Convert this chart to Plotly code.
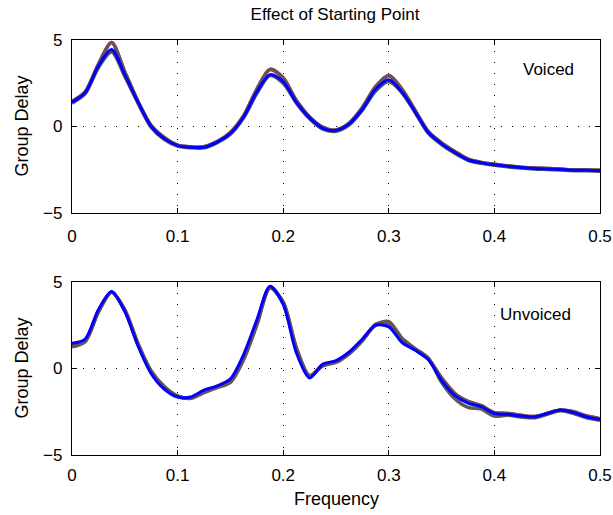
import plotly.graph_objects as go
from plotly.subplots import make_subplots

freq = [i * 0.0125 for i in range(41)]

voiced_blue = [1.4, 1.95, 3.5, 4.45, 3.0, 1.4, 0.0, -0.7, -1.1, -1.2, -1.2, -0.9, -0.4, 0.55, 2.0, 3.0,
               2.6, 1.4, 0.5, -0.1, -0.23, 0.15, 1.0, 2.15, 2.7, 2.0, 0.85, -0.35, -1.0, -1.5, -1.92,
               -2.1, -2.21, -2.3, -2.37, -2.42, -2.45, -2.48, -2.52, -2.53, -2.55]
voiced_upper = [1.45, 2.0, 3.6, 4.85, 3.15, 1.45, 0.05, -0.65, -1.08, -1.18, -1.17, -0.87, -0.35, 0.62, 2.15, 3.3,
                2.8, 1.5, 0.55, -0.05, -0.2, 0.2, 1.1, 2.3, 2.95, 2.15, 0.92, -0.3, -0.95, -1.45, -1.88,
                -2.07, -2.18, -2.28, -2.35, -2.4, -2.43, -2.46, -2.5, -2.51, -2.53]
voiced_lower = [1.35, 1.9, 3.4, 4.3, 2.9, 1.35, -0.05, -0.75, -1.13, -1.23, -1.23, -0.93, -0.45, 0.5, 1.9, 2.95,
                2.5, 1.35, 0.45, -0.15, -0.27, 0.1, 0.95, 2.05, 2.6, 1.95, 0.8, -0.4, -1.05, -1.55, -1.95,
                -2.13, -2.24, -2.33, -2.4, -2.45, -2.48, -2.51, -2.55, -2.56, -2.58]

unvoiced_blue = [1.45, 1.7, 3.4, 4.45, 3.3, 1.3, -0.3, -1.2, -1.65, -1.65, -1.25, -1.0, -0.6, 0.8, 2.8, 4.75,
                 3.7, 0.9, -0.55, 0.25, 0.45, 0.95, 1.7, 2.5, 2.4, 1.5, 1.05, 0.5, -0.7, -1.55, -2.0,
                 -2.2, -2.6, -2.65, -2.75, -2.8, -2.6, -2.4, -2.55, -2.8, -2.95]
unvoiced_band1 = [1.3, 1.6, 3.3, 4.4, 3.35, 1.4, -0.2, -1.1, -1.6, -1.7, -1.35, -1.05, -0.75, 0.6, 2.6, 4.7,
                  3.8, 1.1, -0.45, 0.2, 0.4, 0.9, 1.65, 2.5, 2.6, 1.65, 1.1, 0.55, -0.55, -1.45, -1.9,
                  -2.15, -2.55, -2.6, -2.7, -2.78, -2.6, -2.4, -2.5, -2.75, -2.9]
unvoiced_band2 = [1.25, 1.55, 3.25, 4.4, 3.4, 1.45, -0.15, -1.05, -1.6, -1.72, -1.4, -1.1, -0.8, 0.5, 2.5, 4.65,
                  3.85, 1.2, -0.4, 0.15, 0.35, 0.85, 1.6, 2.55, 2.7, 1.75, 1.15, 0.6, -0.8, -1.75, -2.25,
                  -2.35, -2.75, -2.7, -2.8, -2.85, -2.65, -2.45, -2.6, -2.85, -3.0]

x_ticks = [0, 0.1, 0.2, 0.3, 0.4, 0.5]
y_ticks = [-5, 0, 5]

FONT = "Liberation Sans, Arial, Helvetica, sans-serif"

fig = make_subplots(rows=2, cols=1, vertical_spacing=0.166)

band_colors = ["rgb(150,70,50)", "rgb(90,90,90)", "rgb(110,80,90)"]
for row, series in ((1, [voiced_upper, voiced_lower, voiced_upper]), (2, [unvoiced_band1, unvoiced_band2, unvoiced_band1])):
    for s, c in zip(series, band_colors):
        fig.add_trace(go.Scatter(x=freq, y=s, mode="lines", line=dict(color=c, width=3.5, shape="spline", smoothing=0.8),
                                 showlegend=False, hoverinfo="skip"), row=row, col=1)
    blue = voiced_blue if row == 1 else unvoiced_blue
    fig.add_trace(go.Scatter(x=freq, y=blue, mode="lines", line=dict(color="rgb(0,0,255)", width=3, shape="spline", smoothing=0.8),
                             showlegend=False), row=row, col=1)

axis_font = dict(family=FONT, size=17, color="black")
for r, standoff in ((1, 7), (2, 4)):
    fig.update_xaxes(range=[0, 0.5], tickvals=x_ticks, ticktext=[f"{v:g}" for v in x_ticks],
                     showline=True, linecolor="black", linewidth=1.3, mirror="allticks",
                     ticks="inside", ticklen=5, tickcolor="black", ticklabelstandoff=standoff,
                     showgrid=True, gridcolor="black", griddash="1px,10px", gridwidth=1,
                     zeroline=False, tickfont=axis_font, automargin=False, row=r, col=1)
    fig.update_yaxes(range=[-5, 5], tickvals=y_ticks,
                     showline=True, linecolor="black", linewidth=1.3, mirror="allticks",
                     ticks="inside", ticklen=5, tickcolor="black", ticklabelstandoff=5,
                     showgrid=True, gridcolor="black", griddash="1px,10px", gridwidth=1,
                     zeroline=False, tickfont=axis_font, automargin=False, row=r, col=1)

title_font = dict(family=FONT, size=18, color="black")
for yd in ("y domain", "y2 domain"):
    fig.add_annotation(x=0, xref="paper", y=0.5, yref=yd, text="Group Delay", textangle=-90,
                       showarrow=False, xanchor="center", yanchor="middle", xshift=-50, font=title_font)
fig.add_annotation(x=0.5, xref="x2 domain", y=0, yref="y2 domain", text="Frequency", showarrow=False,
                   xanchor="center", yanchor="middle", yshift=-44, font=title_font)

fig.add_annotation(x=0.451, y=3.28, xref="x", yref="y", text="Voiced", showarrow=False,
                   font=dict(family=FONT, size=17, color="black"))
fig.add_annotation(x=0.439, y=3.14, xref="x2", yref="y2", text="Unvoiced", showarrow=False,
                   font=dict(family=FONT, size=17, color="black"))

fig.update_layout(
    width=613, height=515,
    margin=dict(l=72, r=13, t=40, b=60),
    paper_bgcolor="white", plot_bgcolor="white",
    title=dict(text="Effect of Starting Point", x=0.5465, xanchor="center", y=0.9728, yanchor="middle",
               font=dict(family=FONT, size=17, color="black")),
)
fig.write_html("out.html")
